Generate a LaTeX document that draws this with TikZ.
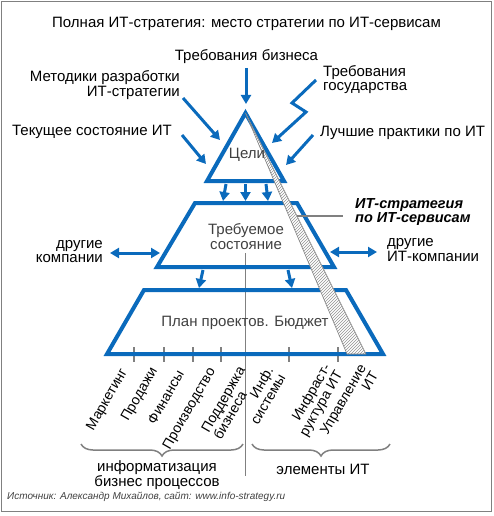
\documentclass[tikz,border=0pt]{standalone}
\usepackage{fontspec}
\setmainfont{Liberation Sans}
\usetikzlibrary{arrows.meta,patterns,decorations.pathreplacing}
\definecolor{bl}{RGB}{10,106,188}
\definecolor{gl}{RGB}{128,128,128}
\definecolor{tx}{RGB}{64,64,64}
\begin{document}
\begin{tikzpicture}[x=1pt,y=-1pt,
  lbl/.style={font=\fontsize{15}{14.5}\selectfont, inner sep=0pt},
  inl/.style={lbl, text=tx},
  shp/.style={draw=bl, line width=4pt, line join=miter},
  arr/.style={draw=bl, line width=3pt, -{Triangle[length=9pt,width=10pt]}},
  darr/.style={draw=bl, line width=3pt, {Triangle[length=9pt,width=10pt]}-{Triangle[length=9pt,width=10pt]}},
  gline/.style={draw=gl, line width=1.5pt},
  rot/.style={inner sep=0pt, font=\fontsize{14}{14}\selectfont, rotate=60, anchor=north east},
  brc/.style={gline, decorate, decoration={brace, mirror, amplitude=12pt}}]
\useasboundingbox (0,0) rectangle (493,516);
\draw[gl, line width=1.5pt] (1.5,1.5) rectangle (491.5,511.5);

% texts
\node[lbl] (title) at (246.5,24) {Полная ИТ-стратегия: место стратегии по ИТ-сервисам};
\node[lbl] (biz) at (246.5,57) {Требования бизнеса};
\node[lbl, align=right, anchor=east] (meth) at (180,85) {Методики разработки\\ИТ-стратегии};
\node[lbl, align=left, anchor=west] (gov) at (323,79.5) {Требования\\государства};
\node[lbl, anchor=east] (cur) at (172,132) {Текущее состояние ИТ};
\node[lbl, anchor=west] (best) at (320,133) {Лучшие практики по ИТ};
\node[lbl, align=right, anchor=east] (oth) at (103,251.5) {другие\\компании};
\node[lbl, align=left, anchor=west] (oit) at (387,250) {другие\\ИТ-компании};
\node[inner sep=0pt, font=\fontsize{14.5}{14.5}\selectfont\bfseries\itshape, align=left, anchor=west] (its) at (355,212) {ИТ-стратегия\\по ИТ-сервисам};

% gray lines
\coordinate (v1) at (245.5,253);
\coordinate (v2) at (245.5,476);
\draw[gline] (v1) -- (v2);
\foreach \x [count=\i] in {134,164,193,221,289,338} {
  \coordinate (tk\i a) at (\x,347);
  \coordinate (tk\i b) at (\x,362);
  \draw[gline] (tk\i a) -- (tk\i b);
}

% shapes
\coordinate (t1) at (245.5,113);
\coordinate (t2) at (284,181);
\coordinate (t3) at (207,181);
\draw[shp] (t1) -- (t2) -- (t3) -- cycle;
\coordinate (q1) at (195,203);
\coordinate (q2) at (297,203);
\coordinate (q3) at (334,267);
\coordinate (q4) at (157,267);
\draw[shp] (q1) -- (q2) -- (q3) -- (q4) -- cycle;
\coordinate (p1) at (144,290);
\coordinate (p2) at (346,290);
\coordinate (p3) at (383,354);
\coordinate (p4) at (107,354);
\draw[shp] (p1) -- (p2) -- (p3) -- (p4) -- cycle;

% hatched strip
\coordinate (s0) at (245.5,113);
\coordinate (s1) at (347,354);
\coordinate (s2) at (366,354);
\fill[white] (s0) -- (s1) -- (s2) -- cycle;
\draw[gl, line width=0.6pt, pattern=north east lines, pattern color=gl!85] (s0) -- (s1) -- (s2) -- cycle;
\coordinate (ls) at (297,216);
\coordinate (le) at (343,216);
\draw[gline] (ls) -- (le);

% inner texts
\node[inl] (goal) at (247,155) {Цели};
\node[inl, align=center] (req) at (246,236.5) {Требуемое\\состояние};
\node[inl] (plan) at (245,323) {План проектов. Бюджет};

% arrows
\coordinate (a1s) at (246,68);   \coordinate (a1e) at (246,104);
\draw[arr] (a1s) -- (a1e);
\coordinate (a2s) at (183,98);   \coordinate (a2e) at (220,140);
\draw[arr] (a2s) -- (a2e);
\coordinate (a3s) at (182,135);  \coordinate (a3e) at (206,164);
\draw[arr] (a3s) -- (a3e);
\coordinate (a4s) at (313,135);  \coordinate (a4e) at (286,165);
\draw[arr] (a4s) -- (a4e);
\coordinate (z1) at (316,80); \coordinate (z2) at (292,103); \coordinate (z3) at (306,112); \coordinate (z4) at (272,143);
\draw[arr, line join=miter] (z1) -- (z2) -- (z3) -- (z4);
\coordinate (d1s) at (226,184); \coordinate (d1e) at (223,201);
\coordinate (d2s) at (245.5,184); \coordinate (d2e) at (245.5,201);
\coordinate (d3s) at (266,184); \coordinate (d3e) at (268,201);
\draw[arr] (d1s) -- (d1e);
\draw[arr] (d2s) -- (d2e);
\draw[arr] (d3s) -- (d3e);
\coordinate (e1s) at (203,270); \coordinate (e1e) at (199,288);
\coordinate (e2s) at (288,270); \coordinate (e2e) at (292,288);
\draw[arr] (e1s) -- (e1e);
\draw[arr] (e2s) -- (e2e);
\coordinate (h1s) at (110,253); \coordinate (h1e) at (160,253);
\draw[darr] (h1s) -- (h1e);
\coordinate (h2s) at (330,252); \coordinate (h2e) at (377,252);
\draw[darr] (h2s) -- (h2e);

% rotated labels
\node[rot] (m1) at (119,367) {Маркетинг};
\node[rot] (m2) at (149,366) {Продажи};
\node[rot] (m3) at (176,369) {Финансы};
\node[rot] (m4) at (207,366) {Производство};
\node[rot, align=left] (m5) at (237,365) {Поддержка\\бизнеса};
\node[rot, align=right] (m6) at (265,365) {Инф.\\системы};
\node[rot, align=right] (m7) at (322,362) {Инфраст-\\руктура ИТ};
\node[rot, align=right] (m8) at (358,363) {Управление\\ИТ};

% braces
\coordinate (b1a) at (81,444); \coordinate (b1b) at (243,444);
\draw[brc] (b1a) -- (b1b);
\coordinate (b2a) at (252,444); \coordinate (b2b) at (390,444);
\draw[brc] (b2a) -- (b2b);
\node[lbl, align=center] (inf) at (157,475) {информатизация\\бизнес процессов};
\node[lbl] (elit) at (323,469) {элементы ИТ};

\node[inner sep=0pt, font=\fontsize{10}{12}\selectfont\itshape, text=tx, anchor=west] (src) at (7,497) {Источник: Александр Михайлов, сайт: www.info-strategy.ru};
\end{tikzpicture}
\end{document}
